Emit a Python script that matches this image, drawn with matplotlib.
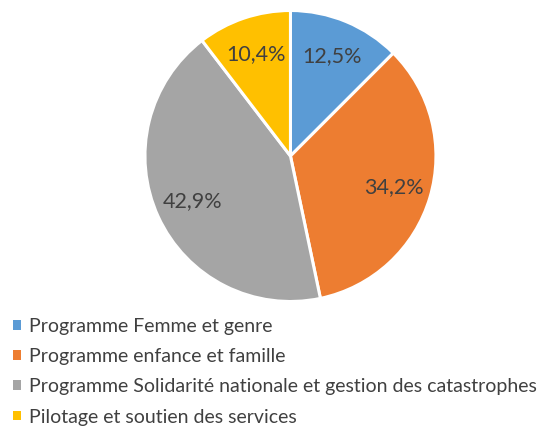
import matplotlib
matplotlib.use("Agg")
import matplotlib.pyplot as plt
from matplotlib.patches import Patch

LABELS = [
    "Programme Femme et genre",
    "Programme enfance et famille",
    "Programme Solidarité nationale et gestion des catastrophes",
    "Pilotage et soutien des services",
]
SHARES = [12.5, 34.2, 42.9, 10.4]
COLORS = ["#5B9BD5", "#ED7D31", "#A5A5A5", "#FFC000"]
TEXT_COLOR = "#404040"

plt.rcParams["font.family"] = ["Lato", "DejaVu Sans"]

fig = plt.figure(figsize=(5.47, 4.34), dpi=100)
ax = fig.add_axes([0.265, 0.3053, 0.532, 0.6705])

wedges, _, autotexts = ax.pie(
    SHARES,
    colors=COLORS,
    startangle=90,
    counterclock=False,
    autopct=lambda p: f"{p:.1f}%".replace(".", ","),
    pctdistance=0.74,
    wedgeprops=dict(edgecolor="white", linewidth=2.2),
    textprops=dict(color=TEXT_COLOR, fontsize=15.5),
)
ax.set_xlim(-1, 1)
ax.set_ylim(-1, 1)
ax.set_aspect("equal")

handles = [Patch(facecolor=c, edgecolor="none") for c in COLORS]
fig.legend(
    handles,
    LABELS,
    loc="upper left",
    bbox_to_anchor=(0.006, 0.29),
    frameon=False,
    fontsize=14.0,
    labelcolor=TEXT_COLOR,
    handlelength=0.4,
    handleheight=0.4,
    handletextpad=0.4,
    labelspacing=0.68,
    borderpad=0,
)

fig.savefig("out.png", dpi=100)
